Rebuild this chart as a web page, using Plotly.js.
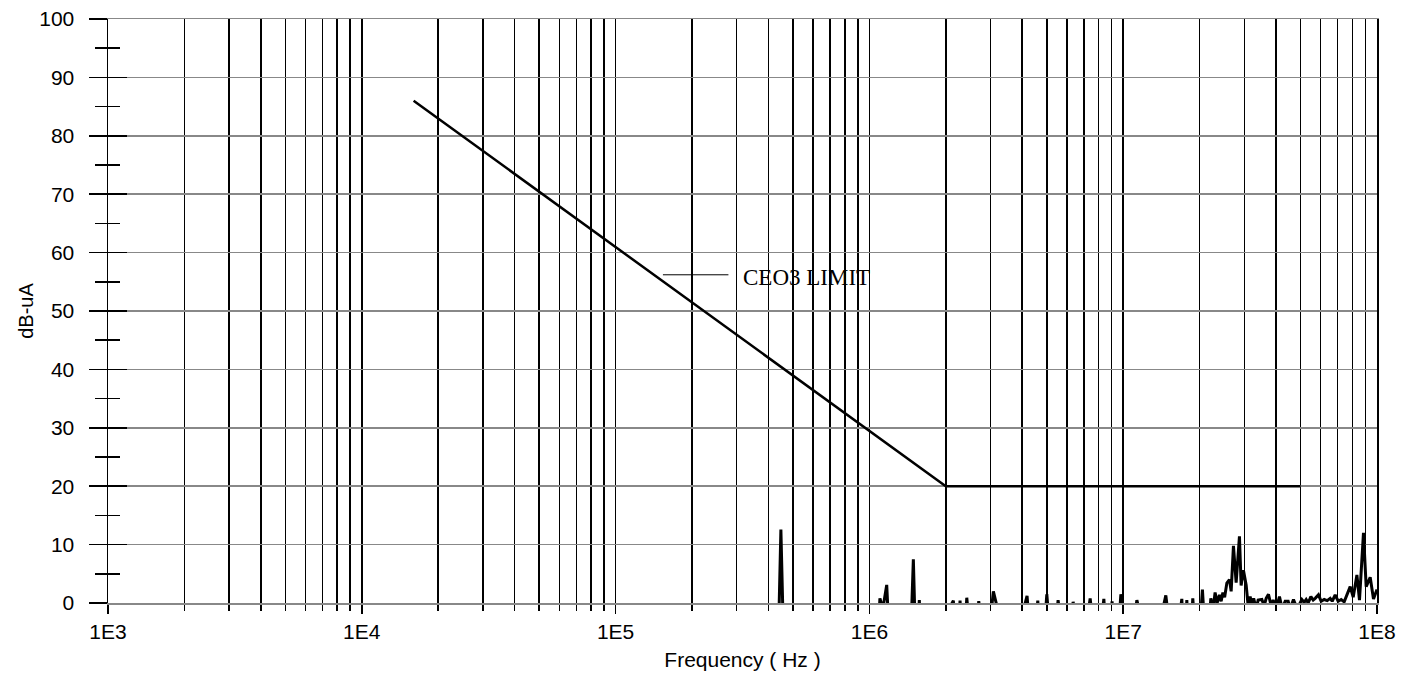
<!DOCTYPE html>
<html>
<head>
<meta charset="utf-8">
<script src="https://cdn.plot.ly/plotly-3.0.1.min.js"></script>
<style>html,body{margin:0;padding:0;background:#fff;}#chart{width:1415px;height:684px;}</style>
</head>
<body>
<div id="chart"></div>
<script>
// CE03 limit line (Hz, dB-uA)
const limitFreq = [1.6e4, 2.0e6, 5.0e7];
const limitDb = [86, 20, 20];

// Measured emission (Hz, dB-uA); negative values lie below the visible floor
const measFreq = [
  4.36e5, 4.48e5, 4.61e5,
  1.07e6, 1.10e6, 1.13e6, 1.17e6, 1.21e6,
  1.445e6, 1.49e6, 1.527e6, 1.573e6, 1.612e6,
  2.142e6, 2.208e6, 2.276e6, 2.347e6, 2.419e6, 2.555e6, 2.697e6, 2.883e6,
  3.079e6, 3.587e6, 4.180e6, 4.388e6, 4.607e6, 4.800e6, 5.0e6, 5.262e6,
  5.54e6, 5.929e6, 6.35e6, 6.857e6, 7.41e6, 7.880e6, 8.39e6, 8.710e6,
  9.04e6, 9.408e6, 9.79e6, 1.053e7, 1.132e7, 1.291e7, 1.472e7, 1.583e7,
  1.702e7, 1.741e7, 1.781e7, 1.830e7, 1.880e7, 1.965e7, 2.052e7, 2.132e7,
  2.214e7, 2.261e7, 2.302e7, 2.345e7, 2.394e7, 2.432e7, 2.470e7, 2.510e7,
  2.561e7, 2.622e7, 2.663e7, 2.719e7, 2.786e7, 2.871e7, 2.915e7, 2.977e7,
  3.051e7, 3.107e7, 3.164e7, 3.222e7, 3.266e7, 3.341e7, 3.402e7, 3.518e7,
  3.593e7, 3.659e7, 3.736e7, 3.828e7, 3.899e7, 4.006e7, 4.128e7, 4.230e7,
  4.347e7, 4.467e7, 4.549e7, 4.687e7, 4.847e7, 5.058e7, 5.164e7, 5.259e7,
  5.355e7, 5.489e7, 5.604e7, 5.707e7, 5.880e7, 6.027e7, 6.193e7, 6.364e7,
  6.540e7, 6.660e7, 6.843e7, 7.032e7, 7.226e7, 7.425e7, 7.610e7, 7.841e7,
  8.058e7, 8.333e7, 8.531e7, 8.846e7, 9.065e7, 9.401e7, 9.687e7, 1.0e8
];
const measDb = [
  -10, 12.6, -10,
  -10, 0.8, -1, 3.1, -10,
  -10, 7.5, -10, 0.5, -10,
  0.4, -10, 0.4, -10, 0.9, -10, 0.3, -10,
  2.0, -10, 1.2, -10, 0.4, -10, 1.5, -10,
  0.5, -10, 0.2, -10, 0.8, -10, 0.7, -10,
  0.3, -10, 1.5, -10, 0.5, -10, 1.3, -10,
  0.7, -10, 0.5, -10, 0.8, -10, 2.3, -10,
  0.8, -1, 1.8, 0, 1.4, 0.3, 1.8, 1.0,
  3.4, 4.0, 2.0, 9.8, 3.5, 11.4, 3.0, 5.6,
  3.1, -0.5, 1.1, -0.5, 0.8, -1, 0.5, 0.6,
  -0.5, 0.8, 1.5, -0.5, 0.5, -1, 1.1, -1,
  0.3, 0.3, -1, 0.6, -1, 0.6, 0.1, 0.6,
  0, 1.1, 0.5, 0.8, 1.4, 0.3, 0.6, 0.4,
  0.8, 0.3, 1.4, 0.3, 0.6, 0.2, 1.4, 2.8,
  1.0, 4.8, 0.5, 12.0, 2.8, 4.4, 0.7, 2.3
];

// Axis ticks
const xMajorVals = [1e3, 1e4, 1e5, 1e6, 1e7, 1e8];
const xMajorText = ['1E3', '1E4', '1E5', '1E6', '1E7', '1E8'];
const xMinorVals = [];
[1e3, 1e4, 1e5, 1e6, 1e7].forEach(d => { for (let m = 2; m <= 9; m++) xMinorVals.push(m * d); });

const labelText = 'CEO3 LIMIT';
const labelPos = {x: 5.4939, y: 55.8};      // log10(Hz), dB
const leaderPos = {x: 5.1865, y: 56.2};

const tickFont = {family: 'Liberation Sans, Arial, sans-serif', size: 21, color: '#000'};

const data = [
  {x: measFreq, y: measDb, type: 'scatter', mode: 'lines',
   line: {color: '#000', width: 3}, hoverinfo: 'skip', showlegend: false},
  {x: limitFreq, y: limitDb, type: 'scatter', mode: 'lines', yaxis: 'y2',
   line: {color: '#000', width: 2.5}, hoverinfo: 'skip', showlegend: false}
];

const layout = {
  width: 1415, height: 684,
  margin: {l: 108, r: 38, t: 19, b: 81},
  paper_bgcolor: '#fff', plot_bgcolor: '#fff',
  showlegend: false,
  xaxis: {
    type: 'log', range: [3, 8],
    tickvals: xMajorVals, ticktext: xMajorText,
    ticks: 'outside', ticklen: 9, tickwidth: 1.5, tickcolor: '#000',
    showgrid: true, gridcolor: '#000', gridwidth: 1.5,
    minor: {tickvals: xMinorVals, ticks: 'outside', ticklen: 6, tickwidth: 1.5, tickcolor: '#000',
            showgrid: true, gridcolor: '#000', gridwidth: 1.5},
    zeroline: false,
    showline: true, linecolor: '#888', linewidth: 1.5, mirror: true,
    tickfont: tickFont,
    title: {text: 'Frequency ( Hz )', font: {family: 'Liberation Sans, Arial, sans-serif', size: 21, color: '#000'}, standoff: 10}
  },
  yaxis: {
    range: [0, 100], dtick: 10, tick0: 0,
    ticks: 'outside', ticklen: 18, tickwidth: 1.5, tickcolor: '#000',
    minor: {dtick: 5, ticks: 'outside', ticklen: 12, tickwidth: 1.5, tickcolor: '#000', showgrid: false},
    showgrid: true, gridcolor: '#888', gridwidth: 1.5,
    zeroline: false,
    showline: true, linecolor: '#000', linewidth: 1.5, mirror: true,
    tickfont: tickFont, ticklabelstandoff: 10,
    title: {text: 'dB-uA', font: {family: 'Liberation Sans, Arial, sans-serif', size: 20, color: '#000'}, standoff: 0}
  },
  yaxis2: {
    overlaying: 'y', side: 'left', range: [0, 100], dtick: 10, tick0: 0,
    ticks: 'inside', ticklen: 19, tickwidth: 1.5, tickcolor: '#000',
    minor: {dtick: 5, ticks: 'inside', ticklen: 12, tickwidth: 1.5, tickcolor: '#000', showgrid: false},
    showgrid: false, zeroline: false, showticklabels: false, showline: false
  },
  annotations: [
    {x: labelPos.x, y: labelPos.y, xref: 'x', yref: 'y', text: labelText, showarrow: false,
     xanchor: 'left', yanchor: 'middle',
     font: {family: 'Liberation Serif, Times New Roman, serif', size: 23, color: '#000'}},
    {x: leaderPos.x, y: leaderPos.y, xref: 'x', yref: 'y', text: '', showarrow: true,
     arrowhead: 0, arrowwidth: 1, arrowcolor: '#000', ax: 67, ay: 0}
  ]
};

Plotly.newPlot('chart', data, layout, {staticPlot: true, displayModeBar: false});
</script>
</body>
</html>
